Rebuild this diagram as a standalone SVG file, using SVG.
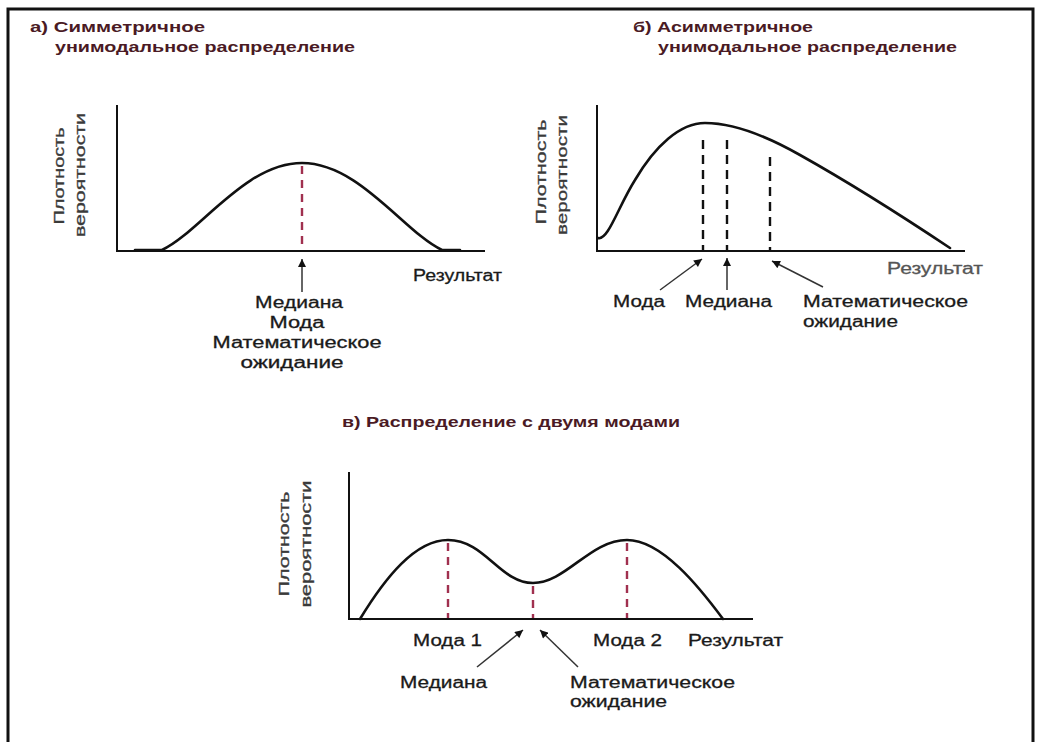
<svg xmlns="http://www.w3.org/2000/svg" width="1040" height="742" viewBox="0 0 1040 742">
<style>
.t{font-family:"Liberation Sans",Arial,sans-serif;font-weight:bold;font-size:15px;fill:#4a1a24}
.l{font-family:"Liberation Sans",Arial,sans-serif;font-size:16px;fill:#1a1a1a;stroke:#1a1a1a;stroke-width:0.3}
.y{font-family:"Liberation Sans",Arial,sans-serif;font-size:14px;fill:#3a3a3a;stroke:#3a3a3a;stroke-width:0.3}
.ax{stroke:#111;stroke-width:2;fill:none}
.cv{stroke:#111;stroke-width:2.6;fill:none;stroke-linejoin:round;stroke-linecap:round}
.dr{stroke:#a0304f;stroke-width:2.4;stroke-dasharray:8 6;fill:none}
.db{stroke:#111;stroke-width:2.4;stroke-dasharray:9 6;fill:none}
.ar{stroke:#333;stroke-width:1.5;fill:none;marker-end:url(#ah)}
</style>
<defs>
<marker id="ah" viewBox="0 0 10 10" refX="10" refY="5" markerWidth="9" markerHeight="8" markerUnits="userSpaceOnUse" orient="auto">
<path d="M0,0 L10,5 L0,10 z" fill="#111"/>
</marker>
</defs>
<rect width="1040" height="742" fill="#fff"/>
<path d="M8,745 V9 H1033 V745" fill="none" stroke="#111" stroke-width="3"/>

<g id="panel-a">
<text class="t" x="30" y="32" textLength="175" lengthAdjust="spacingAndGlyphs">а) Симметричное</text>
<text class="t" x="55" y="52" textLength="300" lengthAdjust="spacingAndGlyphs">унимодальное распределение</text>
<text class="y" transform="translate(64,176) rotate(-90)" text-anchor="middle" textLength="97" lengthAdjust="spacingAndGlyphs">Плотность</text>
<text class="y" transform="translate(85,175) rotate(-90)" text-anchor="middle" textLength="124" lengthAdjust="spacingAndGlyphs">вероятности</text>
<path class="ax" d="M117,105 V251 H485"/>
<path class="cv" d="M135,250 H162 C200,232 245,163 302,163 C359,163 404,232 442,250 H460"/>
<path class="dr" d="M302,166 V250"/>
<text class="l" x="413" y="281" textLength="89" lengthAdjust="spacingAndGlyphs">Результат</text>
<text class="l" x="299" y="308" text-anchor="middle" textLength="88" lengthAdjust="spacingAndGlyphs">Медиана</text>
<text class="l" x="297" y="328" text-anchor="middle" textLength="55" lengthAdjust="spacingAndGlyphs">Мода</text>
<text class="l" x="297" y="348" text-anchor="middle" textLength="169" lengthAdjust="spacingAndGlyphs">Математическое</text>
<text class="l" x="292" y="368" text-anchor="middle" textLength="103" lengthAdjust="spacingAndGlyphs">ожидание</text>
</g>

<g id="panel-b">
<text class="t" x="633" y="32" textLength="180" lengthAdjust="spacingAndGlyphs">б) Асимметричное</text>
<text class="t" x="658" y="52" textLength="299" lengthAdjust="spacingAndGlyphs">унимодальное распределение</text>
<text class="y" transform="translate(546,172) rotate(-90)" text-anchor="middle" textLength="105" lengthAdjust="spacingAndGlyphs">Плотность</text>
<text class="y" transform="translate(567,175) rotate(-90)" text-anchor="middle" textLength="120" lengthAdjust="spacingAndGlyphs">вероятности</text>
<path class="ax" d="M597,105 V251 H965"/>
<path class="cv" d="M598,238 C608,241 618,207 635,180 C655,146 680,123 705,123 C735,123 770,138 800,155 C850,183 905,218 950,248"/>
<path class="db" d="M703,140 V250"/>
<path class="db" d="M727,140 V250"/>
<path class="db" d="M770,157 V250"/>
<text class="l" x="887" y="274" textLength="96" lengthAdjust="spacingAndGlyphs" style="fill:#555;stroke:#555">Результат</text>
<text class="l" x="613" y="307" textLength="52" lengthAdjust="spacingAndGlyphs">Мода</text>
<text class="l" x="685" y="307" textLength="87" lengthAdjust="spacingAndGlyphs">Медиана</text>
<text class="l" x="803" y="307" textLength="165" lengthAdjust="spacingAndGlyphs">Математическое</text>
<text class="l" x="803" y="327" textLength="95" lengthAdjust="spacingAndGlyphs">ожидание</text>
</g>

<g id="panel-c">
<text class="t" x="342" y="427" textLength="338" lengthAdjust="spacingAndGlyphs">в) Распределение с двумя модами</text>
<text class="y" transform="translate(289,544) rotate(-90)" text-anchor="middle" textLength="105" lengthAdjust="spacingAndGlyphs">Плотность</text>
<text class="y" transform="translate(311,544) rotate(-90)" text-anchor="middle" textLength="127" lengthAdjust="spacingAndGlyphs">вероятности</text>
<path class="ax" d="M349,472 V619 H753"/>
<path class="cv" d="M360,619 C385,578 415,540 448,540 C485,540 500,583 533,583 C566,583 590,540 627,540 C662,540 700,588 723,619"/>
<path class="dr" d="M448,543 V618"/>
<path class="dr" d="M533,586 V618"/>
<path class="dr" d="M627,543 V618"/>
<text class="l" x="413" y="646" textLength="69" lengthAdjust="spacingAndGlyphs">Мода 1</text>
<text class="l" x="593" y="646" textLength="69" lengthAdjust="spacingAndGlyphs">Мода 2</text>
<text class="l" x="688" y="646" textLength="95" lengthAdjust="spacingAndGlyphs">Результат</text>
<text class="l" x="400" y="688" textLength="87" lengthAdjust="spacingAndGlyphs">Медиана</text>
<text class="l" x="570" y="688" textLength="165" lengthAdjust="spacingAndGlyphs">Математическое</text>
<text class="l" x="570" y="707" textLength="97" lengthAdjust="spacingAndGlyphs">ожидание</text>
</g>

<g id="connectors">
<path class="ar" d="M302,292 L302,259"/>
<path class="ar" d="M660,290 L702,259"/>
<path class="ar" d="M727,290 L727,258"/>
<path class="ar" d="M823,287 L772,261"/>
<path class="ar" d="M477,667 L523,630"/>
<path class="ar" d="M578,667 L540,630"/>
</g>
</svg>
